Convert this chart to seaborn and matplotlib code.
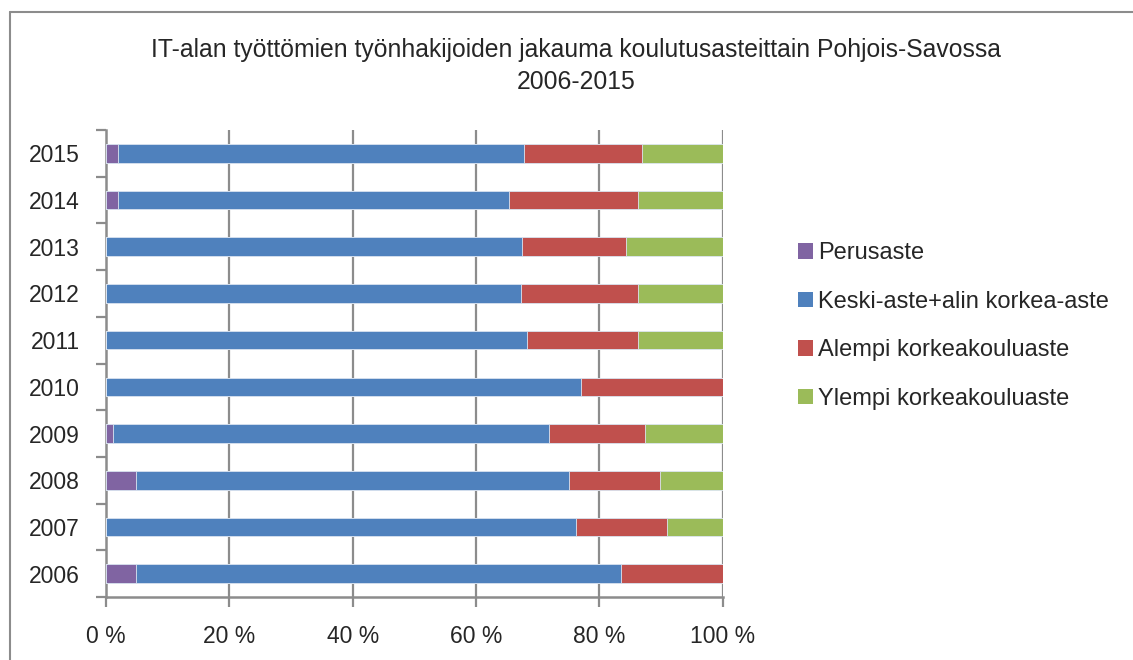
import matplotlib
matplotlib.use("Agg")
import matplotlib.pyplot as plt
import seaborn as sns
import pandas as pd
import numpy as np
from matplotlib.lines import Line2D

sns.set_theme(style="white")
plt.rcParams['font.family'] = ['Liberation Sans', 'DejaVu Sans']

years = ['2015', '2014', '2013', '2012', '2011', '2010', '2009', '2008', '2007', '2006']
series = ['Perusaste', 'Keski-aste+alin korkea-aste', 'Alempi korkeakouluaste', 'Ylempi korkeakouluaste']
perusaste = [1.9, 2.0, 0.0, 0.0, 0.0, 0.0, 1.2, 4.8, 0.0, 4.8]
keskiaste = [65.9, 63.3, 67.4, 67.3, 68.2, 77.0, 70.7, 70.3, 76.2, 78.8]
alempi = [19.2, 20.9, 17.0, 19.0, 18.1, 23.0, 15.5, 14.7, 14.8, 16.4]
ylempi = [13.0, 13.8, 15.6, 13.7, 13.7, 0.0, 12.6, 10.2, 9.0, 0.0]
xticks = [0, 20, 40, 60, 80, 100]
xlabels = ['0 %', '20 %', '40 %', '60 %', '80 %', '100 %']
title = 'IT-alan työttömien työnhakijoiden jakauma koulutusasteittain Pohjois-Savossa\n2006-2015'

colors = ['#8064A2', '#4F81BD', '#C0504D', '#9BBB59']

df = pd.DataFrame({'year': years, series[0]: perusaste, series[1]: keskiaste,
                   series[2]: alempi, series[3]: ylempi})
vals = df[series].to_numpy()
tot = vals.sum(axis=1, keepdims=True)
pct = vals / tot * 100
cum = np.cumsum(pct, axis=1)

fig = plt.figure(figsize=(11.33, 6.6), dpi=100)
ax = fig.add_axes([106 / 1133, 1 - 597 / 660, (722.6 - 106) / 1133, (597 - 130) / 660])

for i in range(3, -1, -1):
    d = pd.DataFrame({'year': years, 'val': cum[:, i]})
    sns.barplot(data=d, x='val', y='year', order=years, orient='h', color=colors[i],
                width=0.4, saturation=1, edgecolor='#dce6f2', linewidth=0.6, ax=ax, zorder=3)

ax.set_xlim(0, 100)
ax.set_ylim(9.5, -0.5)
ax.set_xlabel('')
ax.set_ylabel('')

grid_c = '#8c8c8c'
for x in xticks[1:]:
    ax.axvline(x, color=grid_c, lw=1.6, zorder=1)

ax.set_xticks(xticks)
ax.set_xticklabels(xlabels, fontsize=16.5)
ax.set_yticks(np.arange(-0.5, 10, 1))
ax.set_yticklabels([])
ax.set_yticks(np.arange(0, 10), minor=True)
ax.set_yticklabels(years, minor=True, fontsize=16.5)
ax.tick_params(axis='y', which='major', direction='out', length=7, width=1.6, color=grid_c, left=True)
ax.tick_params(axis='y', which='minor', length=0, pad=19, left=True)
ax.tick_params(axis='x', which='major', direction='out', length=7, width=1.6, color=grid_c, bottom=True, pad=13)
for s in ['top', 'right']:
    ax.spines[s].set_visible(False)
for s in ['left', 'bottom']:
    ax.spines[s].set_color(grid_c)
    ax.spines[s].set_linewidth(1.8)
ax.set_facecolor('white')

fig.text(576 / 1133, 1 - 66 / 660, title, ha='center', va='center', fontsize=17.8, linespacing=1.45)

handles = [plt.Rectangle((0, 0), 1, 1, facecolor=c, edgecolor='none') for c in colors]
fig.legend(handles, series, loc='upper left', bbox_to_anchor=(789 / 1133, 1 - 233 / 660),
           frameon=False, fontsize=17, handlelength=0.62, handleheight=0.62, handletextpad=0.2,
           labelspacing=1.12, borderaxespad=0)

fig.add_artist(Line2D([10.5 / 1133, 10.5 / 1133], [0, 1 - 12 / 660], transform=fig.transFigure, color=grid_c, lw=1.5))
fig.add_artist(Line2D([10.5 / 1133, 1], [1 - 12 / 660, 1 - 12 / 660], transform=fig.transFigure, color=grid_c, lw=1.5))

fig.savefig('out.png', dpi=100, facecolor='white')
